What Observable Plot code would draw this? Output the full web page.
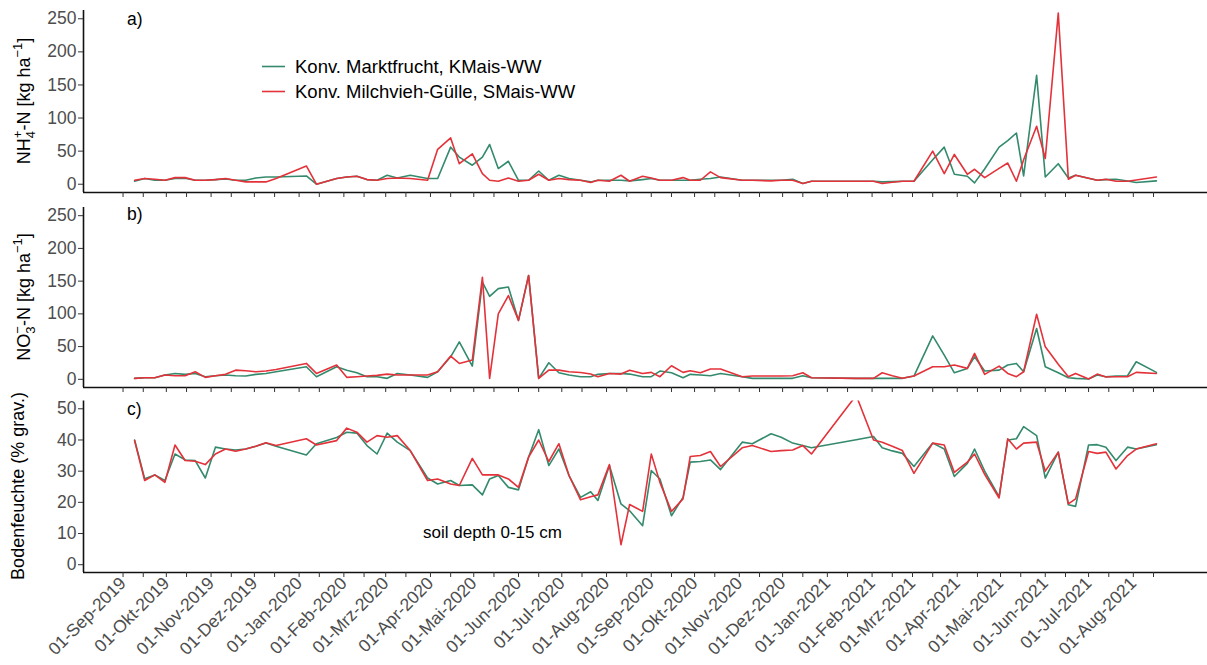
<!DOCTYPE html>
<html><head><meta charset="utf-8">
<script src="https://cdn.jsdelivr.net/npm/d3@7"></script>
<script src="https://cdn.jsdelivr.net/npm/@observablehq/plot@0.6"></script>
<style>
body{margin:0;background:#fff;}
#wrap{position:relative;width:1207px;height:665px;overflow:hidden;font-family:"Liberation Sans",Arial,sans-serif;background:#fff;}
#wrap > svg, #wrap > figure{display:block;margin:0;}
#overlay{position:absolute;left:0;top:0;pointer-events:none;}
</style></head><body><div id="wrap"></div>
<script>
// ---- data ----
const sampleDates = [
"2019-09-09","2019-09-16","2019-09-23","2019-09-30","2019-10-07","2019-10-14","2019-10-21","2019-10-28","2019-11-04","2019-11-11",
"2019-11-18","2019-11-25","2019-12-02","2019-12-09","2019-12-16","2020-01-06","2020-01-13","2020-01-27","2020-02-03","2020-02-10",
"2020-02-17","2020-02-24","2020-03-02","2020-03-09","2020-03-18","2020-03-30","2020-04-06","2020-04-15","2020-04-21","2020-04-30",
"2020-05-07","2020-05-12","2020-05-18","2020-05-25","2020-06-01","2020-06-08","2020-06-15","2020-06-22","2020-06-29","2020-07-06",
"2020-07-14","2020-07-21","2020-07-26","2020-08-03","2020-08-11","2020-08-17","2020-08-26","2020-09-01","2020-09-07","2020-09-15",
"2020-09-23","2020-09-28","2020-10-05","2020-10-12","2020-10-19","2020-11-03","2020-11-10","2020-11-23","2020-11-30","2020-12-08",
"2020-12-15","2020-12-21","2021-01-21","2021-02-02","2021-02-08","2021-02-15","2021-02-22","2021-03-02","2021-03-15","2021-03-23",
"2021-03-30","2021-04-08","2021-04-13","2021-04-20","2021-04-30","2021-05-06","2021-05-12","2021-05-17","2021-05-26","2021-06-01",
"2021-06-10","2021-06-17","2021-06-22","2021-07-01","2021-07-07","2021-07-13","2021-07-20","2021-07-28","2021-08-03","2021-08-17"];

const nh4Konv = [
4.5,8.6,6,6,8.6,9,6,6,7,8,
6,6,9.5,11,11,12.5,0,8.6,11,12,
7,6,13.6,9.5,13.6,8.6,8.6,56,41,28.7,
41,60,23.7,34.7,6,6,20,6,13.6,8.6,
6,3.5,6,6,6,5,7,8.6,6,6,
6,6,7.5,8.6,11,6,6,6,6,7.5,
1,4.5,4.5,4.5,3.5,4,4.5,4.5,37,56,
15,12,2,23,56,66,77.4,12.5,164.5,11,
31,9.5,13.6,9,6,7,7.5,5,2.5,5];
const nh4Milch = [
6,8.6,7.5,6,10,10,6,6,7,8.6,
6,3.5,3.5,3.5,8.6,27.6,0,8.6,11,12,
7,6,8.6,9.5,8.6,6,52.8,70,31,46,
16,6,4.5,9.5,4.5,6,15,6,8.6,7,
6,2.5,6,4.5,13.6,4.5,12,9.5,6,6,
10,6,6,18.6,10,6,6,5,6,6,
1,4.5,4.5,4.5,1,3,4.5,4.5,50,16,
45,15,22.6,10,24,32,4.5,37,87.5,38.8,
258.5,7.5,13.6,9,6,7.5,4.5,4.5,6.5,11];
const no3Konv = [
1.5,2.4,2.4,6.5,9,7.6,9,4,5.5,6.5,
5.5,5,7.6,9,11.6,19.2,4,19.2,14,10,
4,4,1.5,9,6.5,3,11.6,34.4,57.2,20.2,
148.5,126.7,138.5,141,90,158.7,1.5,25.3,10,6.5,
4,4,7.6,9,9,8,4,4,12.6,10,
2.4,7.6,6.5,5.5,9,4,1.5,1.5,1.5,1.5,
5.5,2.4,1.5,1.5,1.5,1.5,1.5,5,66.4,37,
10,16.7,34.4,12.6,14,21.8,24.3,11.6,77.6,19.2,
10,2.4,1.5,0.5,6.5,4,5,5.5,26.8,10.6];
const no3Milch = [
1.5,2.4,2.4,6.5,5.5,5.5,11.6,3,5.5,7.6,
14,13,11.6,12.6,15,24.3,9,21.8,3,4,
5,6,8,6.5,6.5,6.5,11.6,35.5,24.3,29.4,
156,1.5,100,128,90,158.7,1.5,14,14,11.6,
10.5,8,4,9,8,14,9,10.6,4,20.7,
10.6,13,10,15.7,15.7,4,5,5,5,5.5,
10,2.4,1.5,1.5,10,5.5,1.5,5,19.2,19.2,
21.8,16.7,39.6,7.6,20.2,9,4,11.6,99.4,49.6,
23,4,9,0.5,8,3.5,4,4,10.6,9];
const moistKonv = [
40,27.6,28.8,27,35.5,33.6,33.4,27.8,37.7,37.1,
36.8,37.1,38,39,38,35.2,38.8,40.8,42.5,42.2,
38.2,35.5,42.2,39.3,36.6,27.8,25.9,27,25.4,25.6,
22.4,27.5,28.6,24.8,24,34.5,43.3,31.8,37.1,28.6,
21.6,23.4,20.6,31.8,19.5,17.3,12.5,30.2,27.5,15.7,
21.6,32.9,33.1,33.6,30.5,39.3,38.8,42,40.9,39,
38.2,37.5,40.1,41.1,37.5,36.5,35.7,31.5,39,37.1,
28.3,32.5,37.1,30,21.8,40,40.4,44.3,41.4,27.8,
36.1,19.2,18.7,38.4,38.5,37.7,33.4,37.7,37.1,38.5];
const moistMilch = [
39.8,27,28.8,26.4,38.4,33.4,33.2,32.1,35.5,37.1,
36.4,37.1,38,39.1,38.2,40.4,38.4,39.8,43.8,42.5,
39.3,41.4,40.9,41.4,36.6,27,27.5,25.9,25.4,34.1,
28.8,28.8,28.8,27.5,24.8,34.5,40,33.1,38.8,28.6,
20.8,21.8,22.4,32.1,6.4,19.3,17.1,35.5,26.4,17.1,
21.1,34.7,35,36.3,31.5,37.5,38.2,36.3,36.6,36.8,
38.2,35.5,54.3,40,39.3,38,36.6,29.3,39,38.4,
29.6,32.9,35.5,29,21.4,40.4,37.1,39,39.3,30,
36.1,19.5,21.1,36.3,35.7,36.1,30.7,35,37.1,38.8];

const seriesNames = ["Konv. Marktfrucht, KMais-WW", "Konv. Milchvieh-Gülle, SMais-WW"];
const seriesColors = ["#348a6c", "#e3323a"];
const monthTickLabels = ["01-Sep-2019","01-Okt-2019","01-Nov-2019","01-Dez-2019","01-Jan-2020","01-Feb-2020","01-Mrz-2020","01-Apr-2020","01-Mai-2020","01-Jun-2020","01-Jul-2020","01-Aug-2020","01-Sep-2020","01-Okt-2020","01-Nov-2020","01-Dez-2020","01-Jan-2021","01-Feb-2021","01-Mrz-2021","01-Apr-2021","01-Mai-2021","01-Jun-2021","01-Jul-2021","01-Aug-2021"];
const germanMonths = ["Jan","Feb","Mrz","Apr","Mai","Jun","Jul","Aug","Sep","Okt","Nov","Dez"];
const yTicksN = [0, 50, 100, 150, 200, 250];
const yTicksM = [0, 10, 20, 30, 40, 50];
const panelLetters = ["a)", "b)", "c)"];
const annotation = "soil depth 0-15 cm";

// ---- build ----
const FONT = "'Liberation Sans', Arial, sans-serif";
const dates = sampleDates.map(s => new Date(s + "T00:00:00Z"));
function rowsOf(a, b) {
  return [
    ...dates.map((d, i) => ({date: d, series: seriesNames[0], value: a[i]})),
    ...dates.map((d, i) => ({date: d, series: seriesNames[1], value: b[i]}))
  ];
}
const labelDates = monthTickLabels.map(s => {
  const [dd, m, y] = s.split("-");
  return new Date(Date.UTC(+y, germanMonths.indexOf(m), +dd));
});
const labelByTime = new Map(labelDates.map((d, i) => [+d, monthTickLabels[i]]));
const tickDates = labelDates.flatMap(d => [d, new Date(Date.UTC(d.getUTCFullYear(), d.getUTCMonth(), 15))]);
const ext = d3.extent(dates);
const span = ext[1] - ext[0];
const xDomain = [new Date(+ext[0] - 0.05 * span), new Date(+ext[1] + 0.05 * span)];

function panel({rows, height, marginTop, marginBottom, yDomain, yTicks, labels}) {
  return Plot.plot({
    width: 1207, height, marginLeft: 83, marginRight: 0, marginTop, marginBottom,
    style: {fontFamily: FONT, fontSize: "17px", background: "transparent", overflow: "visible"},
    x: {type: "utc", domain: xDomain, label: null},
    y: {domain: yDomain, label: null},
    color: {domain: seriesNames, range: seriesColors},
    marks: [
      Plot.lineY(rows, {x: "date", y: "value", z: "series", stroke: "series", strokeWidth: 1.6, clip: true}),
      Plot.ruleX([xDomain[0]], {stroke: "#111", strokeWidth: 1.6}),
      Plot.ruleY([yDomain[0]], {stroke: "#111", strokeWidth: 1.6}),
      Plot.axisY({ticks: yTicks, tickSize: 5, tickPadding: 2, stroke: "#333", fill: "#4d4d4d", fontSize: 17.5, label: null}),
      Plot.axisX({ticks: tickDates, tickSize: 5, tickPadding: 3, stroke: "#333", fill: "#4d4d4d", fontSize: 17.5, label: null,
        tickRotate: -45, tickFormat: d => labels ? (labelByTime.get(+d) ?? "") : ""})
    ]
  });
}

const wrap = document.getElementById("wrap");
wrap.append(panel({rows: rowsOf(nh4Konv, nh4Milch), height: 199, marginTop: 10, marginBottom: 7, yDomain: [-12.5, 262.5], yTicks: yTicksN, labels: false}));
wrap.append(panel({rows: rowsOf(no3Konv, no3Milch), height: 196, marginTop: 8, marginBottom: 8, yDomain: [-12.5, 262.5], yTicks: yTicksN, labels: false}));
wrap.append(panel({rows: rowsOf(moistKonv, moistMilch), height: 270, marginTop: 5.5, marginBottom: 93, yDomain: [-2.5, 52.5], yTicks: yTicksM, labels: true}));

// ---- overlay texts: titles, legend, panel letters, annotation ----
const ov = d3.select(wrap).append("svg").attr("id", "overlay")
  .attr("width", 1207).attr("height", 665)
  .style("font-family", FONT);

function yTitle(x, y, parts) {
  const t = ov.append("text").attr("transform", `translate(${x},${y}) rotate(-90)`)
    .attr("text-anchor", "middle").attr("font-size", 18).attr("fill", "#000");
  parts.forEach(p => {
    const s = t.append("tspan").text(p.t);
    if (p.dy) s.attr("dy", p.dy);
    if (p.dx) s.attr("dx", p.dx);
    if (p.fs) s.attr("font-size", p.fs);
  });
}
yTitle(29.5, 101, [
  {t: "NH"}, {t: "4", dy: 5, fs: 13}, {t: "+", dx: -7.2, dy: -13, fs: 13}, {t: "-N [kg ha", dy: 8},
  {t: "\u22121", dy: -8, fs: 13}, {t: "]", dy: 8}
]);
yTitle(29.5, 297, [
  {t: "NO"}, {t: "3", dy: 5, fs: 13}, {t: "\u2212", dx: -7.2, dy: -13, fs: 13}, {t: "-N [kg ha", dy: 8},
  {t: "\u22121", dy: -8, fs: 13}, {t: "]", dy: 8}
]);
yTitle(24, 486, [{t: "Bodenfeuchte (% grav.)"}]);

const letterY = [25, 219.5, 414.5];
panelLetters.forEach((l, i) => ov.append("text").attr("x", 127).attr("y", letterY[i])
  .attr("font-size", 17.5).attr("fill", "#000").text(l));

ov.append("text").attr("x", 423).attr("y", 538).attr("font-size", 17).attr("fill", "#000").text(annotation);

seriesNames.forEach((n, i) => {
  const y = 66.5 + i * 25;
  ov.append("line").attr("x1", 262).attr("x2", 285).attr("y1", y).attr("y2", y)
    .attr("stroke", seriesColors[i]).attr("stroke-width", 1.6);
  ov.append("text").attr("x", 295).attr("y", y).attr("dy", "0.35em")
    .attr("font-size", 18.5).attr("fill", "#000").text(n);
});
</script></body></html>
